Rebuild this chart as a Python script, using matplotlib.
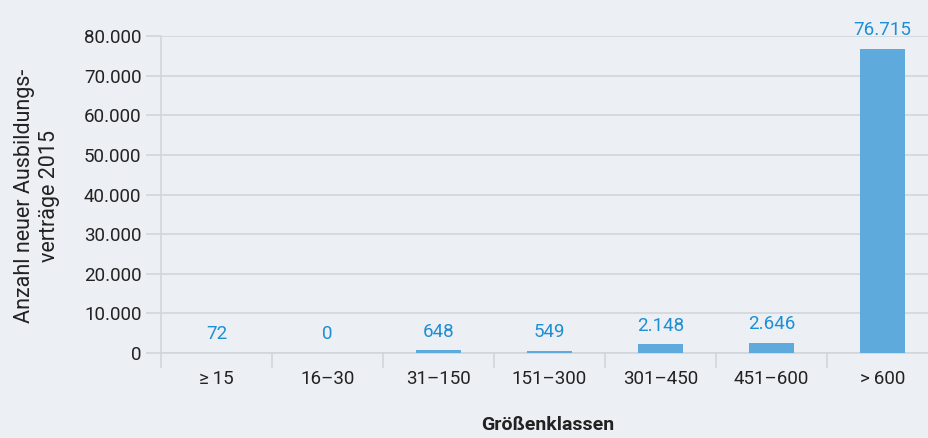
import matplotlib
matplotlib.use("Agg")
import matplotlib.pyplot as plt
from matplotlib import font_manager
import numpy as np

categories = ["\u2265\u200915", "16\u201330", "31\u2013150", "151\u2013300", "301\u2013450", "451\u2013600", ">\u2009600"]
values = [72, 0, 648, 549, 2148, 2646, 76715]
value_labels = ["72", "0", "648", "549", "2.148", "2.646", "76.715"]
yticks = [0, 10000, 20000, 30000, 40000, 50000, 60000, 70000, 80000]
ytick_labels = ["0", "10.000", "20.000", "30.000", "40.000", "50.000", "60.000", "70.000", "80.000"]

names = {f.name for f in font_manager.fontManager.ttflist}
fam = ["Liberation Sans Narrow", "DejaVu Sans"] if "Liberation Sans Narrow" in names else ["DejaVu Sans Condensed", "DejaVu Sans"] if "DejaVu Sans Condensed" in names else ["Roboto", "DejaVu Sans"]
plt.rcParams['font.family'] = fam

bg = "#eceff3"
grid = "#d2d5da"
bar_c = "#5eaadd"
lab_c = "#1d8fd5"
txt = "#222222"

W, H = 929, 438
fig = plt.figure(figsize=(W/100, H/100), dpi=100, facecolor=bg)
left, right = 161, 938
top, bottom = 36, 353
ax = fig.add_axes([left/W, 1-bottom/H, (right-left)/W, (bottom-top)/H], facecolor=bg)

x = np.arange(len(categories))
ax.bar(x, values, width=0.4, color=bar_c, zorder=3)
ax.set_xlim(-0.5, len(categories)-0.5)
ax.set_ylim(0, 80000)
ax.set_yticks(yticks)
ax.set_yticklabels(ytick_labels, fontsize=13.5, color=txt)
ax.set_xticks(x)
ax.set_xticklabels(categories, fontsize=13.5, color=txt)
ax.set_xticks(np.arange(len(categories)+1)-0.5, minor=True)
ax.tick_params(axis='x', which='major', length=0, pad=12)
ax.tick_params(axis='x', which='minor', length=11, color=grid, width=1.2)
ax.tick_params(axis='y', length=11, color=grid, width=1.2, pad=3)
ax.yaxis.grid(True, color=grid, linewidth=1.2, zorder=0)
for s in ["top", "right"]:
    ax.spines[s].set_visible(False)
ax.spines["left"].set_color(grid)
ax.spines["left"].set_linewidth(1.2)
ax.spines["bottom"].set_color(grid)
ax.spines["bottom"].set_linewidth(1.2)

for xi, v, l in zip(x, values, value_labels):
    ax.annotate(l, (xi, v), xytext=(0, 7), textcoords="offset points",
                ha="center", va="bottom", fontsize=13.5, color=lab_c, zorder=4)

fig.text(548/W, 1-425/H, "Größenklassen", ha="center", va="center", fontsize=14, color=txt, fontweight="bold")
fig.text(37/W, 1-196/H, "Anzahl neuer Ausbildungs-\nverträge 2015", ha="center", va="center",
         rotation=90, fontsize=15.5, color=txt, linespacing=1.25, multialignment="center")

fig.savefig("out.png", dpi=100, facecolor=bg)
